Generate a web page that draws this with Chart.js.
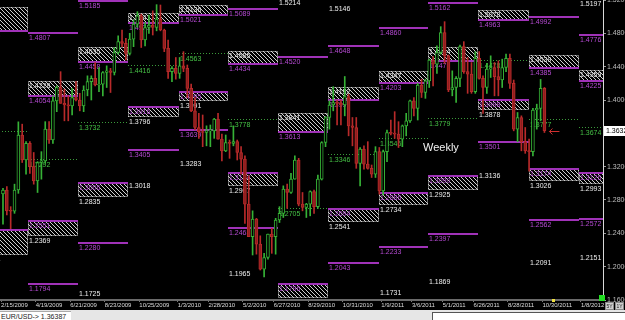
<!DOCTYPE html>
<html>
<head>
<meta charset="utf-8">
<script src="https://cdn.jsdelivr.net/npm/chart.js@4.4.0/dist/chart.umd.min.js"></script>
<style>
	html, body { margin: 0; padding: 0; background: #000; overflow: hidden; }
	#wrap { position: relative; width: 625px; height: 320px; background: #000; font-family: "Liberation Sans", Arial, sans-serif; }
	#chart { position: absolute; left: 0; top: 0; }
	#weekly { position: absolute; left: 423px; top: 141px; color: #f2f2f2; font-size: 11px; }
	#status { position: absolute; left: 0; top: 310px; width: 625px; height: 10px; background: #e6e6e6; }
	#quote { position: absolute; left: 0; top: 1px; width: 71px; height: 9px; background: #fff; border-top: 1px solid #aaa; color: #222; font-size: 7px; line-height: 9px; padding-left: 1px; box-sizing: border-box; }
	#pane { position: absolute; left: 432px; top: 2px; width: 193px; height: 8px; background: #fff; border-left: 1px solid #555; border-top: 1px solid #555; box-sizing: border-box; }
	.btn { position: absolute; top: 302px; width: 9px; height: 8px; background: #cfcfcf; border: 1px solid #888; box-sizing: border-box; color: #222; font-size: 5px; line-height: 6px; text-align: center; }
	#live { position: absolute; left: 599px; top: 295px; width: 6px; height: 6px; background: #22dd22; }
	#mark { position: absolute; left: 552px; top: 299px; width: 3px; height: 3px; background: #f0e040; }
</style>
</head>
<body>
<div id="wrap">
	<canvas id="chart" width="625" height="310"></canvas>
	<div id="weekly">Weekly</div>
	<div id="live"></div>
	<div id="mark"></div>
	<div class="btn" style="left:605px">5Y</div>
	<div class="btn" style="left:615px">1Y</div>
	<div id="status">
		<div id="quote">EUR/USD-&gt; 1.36387</div>
		<div id="pane"></div>
	</div>
</div>
<script>
// weekly EUR/USD candles, week 0 = week of 2/15/2009
var opens = [1.2873,1.2918,1.2670,1.2665,1.2920,1.3580,1.3280,1.3480,1.3200,1.3030,1.3250,1.3270,1.3650,1.3520,1.3990,1.4150,1.3960,1.3940,1.3930,1.4030,
	1.4000,1.3930,1.4120,1.4220,1.4260,1.4180,1.4190,1.4330,1.4350,1.4330,1.4570,1.4700,1.4680,1.4560,1.4730,1.4910,1.5010,1.4720,1.4870,1.4900,
	1.4870,1.4970,1.4840,1.4620,1.4340,1.4380,1.4320,1.4410,1.4380,1.4140,1.3870,1.3670,1.3620,1.3610,1.3630,1.3630,1.3770,1.3530,1.3390,1.3490,
	1.3480,1.3500,1.3370,1.3290,1.2750,1.2360,1.2570,1.2270,1.1970,1.2110,1.2390,1.2360,1.2560,1.2640,1.2930,1.2890,1.3050,1.3280,1.2750,1.2710,
	1.2750,1.2900,1.2720,1.3050,1.3490,1.3790,1.3940,1.3970,1.3960,1.3940,1.4040,1.3690,1.3670,1.3240,1.3410,1.3230,1.3180,1.3110,1.3380,1.2910,
	1.3380,1.3610,1.3600,1.3590,1.3530,1.3690,1.3750,1.3990,1.3900,1.4180,1.4090,1.4230,1.4480,1.4430,1.4570,1.4810,1.4530,1.4120,1.4150,1.4260,
	1.4640,1.4340,1.4310,1.4100,1.4500,1.4260,1.4150,1.4370,1.4390,1.4280,1.4240,1.4390,1.4500,1.4200,1.3650,1.3790,1.3500,1.3390,1.3380,1.3880,
	1.3900,1.4140];
var highs = [1.2940,1.2960,1.2720,1.2990,1.3738,1.3710,1.3500,1.3500,1.3370,1.3260,1.3380,1.3740,1.3740,1.4050,1.4170,1.4340,1.4130,1.4050,1.4140,1.4220,
	1.4080,1.4170,1.4290,1.4290,1.4450,1.4390,1.4340,1.4410,1.4380,1.4630,1.4770,1.4840,1.4740,1.4800,1.4960,1.5060,1.5030,1.4930,1.5020,1.5070,
	1.5144,1.5140,1.4850,1.4720,1.4400,1.4510,1.4510,1.4580,1.4420,1.4190,1.4030,1.3840,1.3820,1.3690,1.3700,1.3780,1.3840,1.3590,1.3580,1.3520,
	1.3690,1.3520,1.3440,1.3330,1.3090,1.2670,1.2580,1.2370,1.2160,1.2390,1.2460,1.2580,1.2720,1.2970,1.2990,1.3120,1.3330,1.3300,1.2890,1.2760,
	1.2910,1.2920,1.3100,1.3500,1.3800,1.3990,1.4160,1.4000,1.4000,1.4282,1.4070,1.3790,1.3790,1.3430,1.3450,1.3500,1.3220,1.3440,1.3430,1.3400,
	1.3640,1.3760,1.3860,1.3740,1.3700,1.3840,1.4000,1.4030,1.4200,1.4250,1.4250,1.4490,1.4520,1.4650,1.4880,1.4940,1.4540,1.4350,1.4280,1.4660,
	1.4700,1.4510,1.4450,1.4580,1.4580,1.4290,1.4440,1.4530,1.4450,1.4470,1.4490,1.4550,1.4550,1.4240,1.3850,1.3810,1.3670,1.3530,1.3900,1.3950,
	1.4247,1.4150];
var lows = [1.2510,1.2620,1.2456,1.2640,1.2880,1.3250,1.3110,1.3120,1.2990,1.2890,1.3050,1.3240,1.3480,1.3480,1.3860,1.3960,1.3750,1.3750,1.3820,1.3990,
	1.3870,1.3860,1.4050,1.4000,1.4170,1.4100,1.4050,1.4150,1.4090,1.4300,1.4550,1.4640,1.4480,1.4540,1.4640,1.4870,1.4630,1.4650,1.4800,1.4780,
	1.4830,1.4830,1.4580,1.4260,1.4220,1.4250,1.4260,1.4340,1.4030,1.3860,1.3640,1.3540,1.3440,1.3450,1.3440,1.3540,1.3530,1.3270,1.3380,1.3300,
	1.3450,1.3280,1.3110,1.2520,1.2360,1.2140,1.2150,1.1960,1.1876,1.2090,1.2160,1.2150,1.2530,1.2590,1.2700,1.2880,1.3050,1.2730,1.2670,1.2590,
	1.2610,1.2640,1.2700,1.3040,1.3440,1.3650,1.3870,1.3700,1.3700,1.3810,1.3570,1.3450,1.3180,1.2970,1.3170,1.3170,1.3070,1.3070,1.2870,1.2860,
	1.3260,1.3580,1.3540,1.3430,1.3440,1.3570,1.3730,1.3810,1.3760,1.4030,1.4020,1.4150,1.4170,1.4320,1.4550,1.4440,1.4100,1.4050,1.3970,1.4160,
	1.4320,1.4080,1.4080,1.4080,1.4250,1.3840,1.4080,1.4270,1.4050,1.4050,1.4150,1.4340,1.4140,1.3630,1.3500,1.3390,1.3360,1.3146,1.3330,1.3650,
	1.3750,1.3610];
var closes = [1.2918,1.2670,1.2665,1.2920,1.3580,1.3280,1.3480,1.3200,1.3030,1.3250,1.3270,1.3650,1.3520,1.3990,1.4150,1.3960,1.3940,1.3930,1.4030,1.4000,
	1.3930,1.4120,1.4220,1.4260,1.4180,1.4190,1.4330,1.4350,1.4330,1.4570,1.4700,1.4680,1.4560,1.4730,1.4910,1.5010,1.4720,1.4870,1.4900,1.4870,
	1.4970,1.4840,1.4620,1.4340,1.4380,1.4320,1.4410,1.4380,1.4140,1.3870,1.3670,1.3620,1.3610,1.3630,1.3630,1.3770,1.3530,1.3390,1.3490,1.3480,
	1.3500,1.3370,1.3290,1.2750,1.2360,1.2570,1.2270,1.1970,1.2110,1.2390,1.2360,1.2560,1.2640,1.2930,1.2890,1.3050,1.3280,1.2750,1.2710,1.2750,
	1.2900,1.2720,1.3050,1.3490,1.3790,1.3940,1.3970,1.3960,1.3940,1.4040,1.3690,1.3670,1.3240,1.3410,1.3230,1.3180,1.3110,1.3380,1.2910,1.3380,
	1.3610,1.3600,1.3590,1.3530,1.3690,1.3750,1.3990,1.3900,1.4180,1.4090,1.4230,1.4480,1.4430,1.4570,1.4810,1.4530,1.4120,1.4150,1.4260,1.4640,
	1.4340,1.4310,1.4100,1.4500,1.4260,1.4150,1.4370,1.4390,1.4280,1.4240,1.4390,1.4500,1.4200,1.3650,1.3790,1.3500,1.3390,1.3380,1.3880,1.3900,
	1.4140,1.3632];

// bottom axis
var tickWeeks = [0, 9, 18, 27, 36, 46, 54, 63, 71, 80, 89, 99, 107, 115, 123, 132, 141, 151];
var tickLabels = ['2/15/2009','4/19/2009','6/21/2009','8/23/2009','10/25/2009','1/3/2010','2/28/2010','5/2/2010','6/27/2010',
	'8/29/2010','10/31/2010','1/9/2011','3/6/2011','5/1/2011','6/26/2011','8/28/2011','10/30/2011','1/8/2012'];

// quarter boundaries in weeks (Q1 2009 .. Q1 2012)
var quarterStarts = [-6.43, 6.43, 19.43, 32.57, 45.71, 58.57, 71.57, 84.71, 97.86, 110.71, 123.71, 136.86, 150, 163];

// [quarter, top, bottom]
var upperZones = [[0,1.5114,1.4826],[1,1.4228,1.4054],[2,1.4635,1.4458],[3,1.5041,1.4921],[4,1.5136,1.5021],[5,1.4585,1.4434],
	[6,1.3841,1.3613],[7,1.4152,1.3997],[8,1.4347,1.4203],[9,1.4634,1.4471],[10,1.5078,1.4963],[11,1.4539,1.4385],[12,1.4359,1.4225]];
var lowerZones = [[0,1.2443,1.2144],[1,1.2551,1.2369],[2,1.3006,1.2835],[3,1.3916,1.3796],[4,1.4095,1.3991],[5,1.3124,1.2967],
	[6,1.1796,1.1628],[7,1.2694,1.2541],[8,1.2886,1.2734],[9,1.3090,1.2925],[10,1.3998,1.3878],[11,1.3174,1.3026],[12,1.3126,1.2993]];
// [quarter, level]
var purpleLines = [[1,1.4807],[1,1.1794],[2,1.5185],[2,1.2280],[3,1.3405],[4,1.3639],[5,1.5089],[5,1.2468],[6,1.4520],[7,1.4648],
	[7,1.2043],[8,1.4860],[8,1.2233],[9,1.5162],[9,1.2397],[10,1.3501],[11,1.4992],[11,1.2562],[12,1.4776],[12,1.2572]];
var greenLines = [[0,1.3629],[1,1.3292],[2,1.3732],[3,1.4416],[4,1.4563],[5,1.3778],[6,1.2705],[7,1.3346],[8,1.3546],[9,1.3779],
	[10,1.4478],[11,1.3777],[12,1.3674]];
var whiteLevels = [[2,1.1725],[3,1.3018],[4,1.3283],[5,1.1965],[6,1.5214],[7,1.5146],[8,1.1731],[9,1.1869],[10,1.3136],
	[11,1.2091],[12,1.5197],[12,1.2151]];

var UP = '#36b236', DOWN = '#b82a2a', PURPLE = '#a032b8', PURPLE_TXT = '#b54ad2', GREEN_TXT = '#45c045', WHITE_TXT = '#ececec';
var FONT = '7px "Liberation Sans", Arial, sans-serif';

Chart.defaults.font.family = '"Liberation Sans", Arial, sans-serif';

var weeks = closes.map(function (c, i) { return i; });
var isUp = function (i) { return closes[i] >= opens[i]; };

var hatch = null;
function getHatch(ctx) {
	if (hatch) return hatch;
	var c = document.createElement('canvas');
	c.width = 4; c.height = 4;
	var g = c.getContext('2d');
	g.fillStyle = '#000'; g.fillRect(0, 0, 4, 4);
	g.fillStyle = '#cfcfcf';
	for (var i = 0; i < 4; i++) g.fillRect(i, i, 1, 1);
	hatch = ctx.createPattern(c, 'repeat');
	return hatch;
}

var levelsPlugin = {
	id: 'levels',
	beforeDatasetsDraw: function (chart) {
		var ctx = chart.ctx, a = chart.chartArea, xs = chart.scales.x, ys = chart.scales.y;
		var qx = function (q) { return Math.round(xs.getPixelForValue(quarterStarts[q])); };
		var py = function (v) { return Math.round(ys.getPixelForValue(v)); };
		var label = function (txt, x, y, col) { ctx.fillStyle = col; ctx.fillText(txt, x + 1, y); };
		var hline = function (x1, x2, y, col, w, dash) {
			ctx.strokeStyle = col; ctx.lineWidth = w; ctx.setLineDash(dash || []);
			ctx.beginPath(); ctx.moveTo(x1, y); ctx.lineTo(x2, y); ctx.stroke();
			ctx.setLineDash([]);
		};

		ctx.save();
		ctx.beginPath();
		ctx.rect(a.left, a.top, a.right - a.left, a.bottom - a.top);
		ctx.clip();
		ctx.font = FONT;
		ctx.textBaseline = 'top';

		var zone = function (z, upper) {
			var x1 = qx(z[0]), x2 = qx(z[0] + 1), y1 = py(z[1]), y2 = py(z[2]);
			ctx.fillStyle = getHatch(ctx);
			ctx.fillRect(x1, y1, x2 - x1, y2 - y1);
			ctx.strokeStyle = '#d8d8d8'; ctx.lineWidth = 1; ctx.setLineDash([1, 1]);
			ctx.strokeRect(x1 + 0.5, y1 + 0.5, x2 - x1 - 1, y2 - y1 - 1);
			ctx.setLineDash([]);
			if (upper) {
				hline(x1, x2, y2, PURPLE, 2);
				label(z[1].toFixed(4), x1, y1 + 2, WHITE_TXT);
				label(z[2].toFixed(4), x1, y2 + 2, PURPLE_TXT);
			} else {
				hline(x1, x2, y1, PURPLE, 2);
				label(z[1].toFixed(4), x1, y1 + 2, PURPLE_TXT);
				label(z[2].toFixed(4), x1, y2 + 2, WHITE_TXT);
			}
		};
		upperZones.forEach(function (z) { zone(z, true); });
		lowerZones.forEach(function (z) { zone(z, false); });

		purpleLines.forEach(function (p) {
			var x1 = qx(p[0]), x2 = qx(p[0] + 1), y = py(p[1]);
			hline(x1, x2, y, PURPLE, 2);
			label(p[1].toFixed(4), x1, y + 2, PURPLE_TXT);
		});
		greenLines.forEach(function (p) {
			var x1 = qx(p[0]), x2 = qx(p[0] + 1), y = py(p[1]) + 0.5;
			hline(x1, x2, y, '#3a9a3a', 1, [1, 2]);
			label(p[1].toFixed(4), x1, y + 2, GREEN_TXT);
		});
		whiteLevels.forEach(function (p) {
			label(p[1].toFixed(4), qx(p[0]), py(p[1]) + 1, WHITE_TXT);
		});
		ctx.restore();
	},
	afterDatasetsDraw: function (chart) {
		// arrow at the last candle
		var ctx = chart.ctx, xs = chart.scales.x, ys = chart.scales.y;
		var last = closes.length - 1;
		var x = xs.getPixelForValue(last) + 5, y = Math.round(ys.getPixelForValue(closes[last])) + 0.5;
		ctx.save();
		ctx.strokeStyle = '#d03030'; ctx.lineWidth = 1;
		ctx.beginPath();
		ctx.moveTo(x + 10, y); ctx.lineTo(x, y);
		ctx.moveTo(x + 3, y - 3); ctx.lineTo(x, y); ctx.lineTo(x + 3, y + 3);
		ctx.stroke();
		ctx.restore();
	},
	afterDraw: function (chart) {
		// current price box on the price axis
		var ctx = chart.ctx, a = chart.chartArea, ys = chart.scales.y;
		var last = closes.length - 1;
		var y = Math.round(ys.getPixelForValue(closes[last]));
		ctx.save();
		ctx.fillStyle = '#fff';
		ctx.fillRect(a.right + 1, y - 5, 22, 10);
		ctx.fillStyle = '#000';
		ctx.font = FONT;
		ctx.textBaseline = 'middle';
		ctx.fillText(closes[last].toFixed(4), a.right + 3, y);
		ctx.restore();
	}
};

new Chart(document.getElementById('chart'), {
	type: 'bar',
	data: {
		datasets: [
			{
				label: 'body',
				data: weeks.map(function (i) { return { x: i, y: [opens[i], closes[i]] }; }),
				barThickness: 3,
				minBarLength: 1,
				borderWidth: 1,
				borderSkipped: false,
				grouped: false,
				backgroundColor: function (c) { return isUp(c.dataIndex) ? '#000' : '#8e1e1e'; },
				borderColor: function (c) { return isUp(c.dataIndex) ? UP : DOWN; }
			},
			{
				label: 'wick',
				data: weeks.map(function (i) { return { x: i, y: [lows[i], highs[i]] }; }),
				barThickness: 1,
				grouped: false,
				backgroundColor: function (c) { return isUp(c.dataIndex) ? UP : DOWN; }
			}
		]
	},
	options: {
		responsive: false,
		animation: false,
		layout: { padding: 0 },
		plugins: { legend: { display: false }, tooltip: { enabled: false } },
		scales: {
			x: {
				type: 'linear',
				min: -0.78,
				max: 156.25,
				offset: false,
				afterFit: function (s) { s.height = 10; s.paddingLeft = 0; s.paddingRight = 0; },
				afterBuildTicks: function (s) { s.ticks = tickWeeks.map(function (w) { return { value: w - 0.5 }; }); },
				border: { color: '#6a6a6a', width: 2 },
				grid: { drawOnChartArea: false, tickLength: 2, color: '#777', offset: false },
				ticks: {
					autoSkip: false, maxRotation: 0, minRotation: 0, align: 'start', padding: 0,
					color: '#dcdcdc', font: { size: 6 },
					callback: function (v, i) { return tickLabels[i]; }
				}
			},
			y: {
				position: 'right',
				min: 1.16,
				max: 1.52,
				afterFit: function (s) { s.width = 22; s.paddingTop = 0; s.paddingBottom = 0; },
				border: { color: '#d8d8d8', width: 1 },
				grid: { drawOnChartArea: false, tickLength: 3, color: '#999' },
				ticks: {
					stepSize: 0.04, padding: 1, color: '#bdbdbd', font: { size: 7 },
					callback: function (v) { return v.toFixed(4); }
				}
			}
		}
	},
	plugins: [levelsPlugin]
});
</script>
</body>
</html>
